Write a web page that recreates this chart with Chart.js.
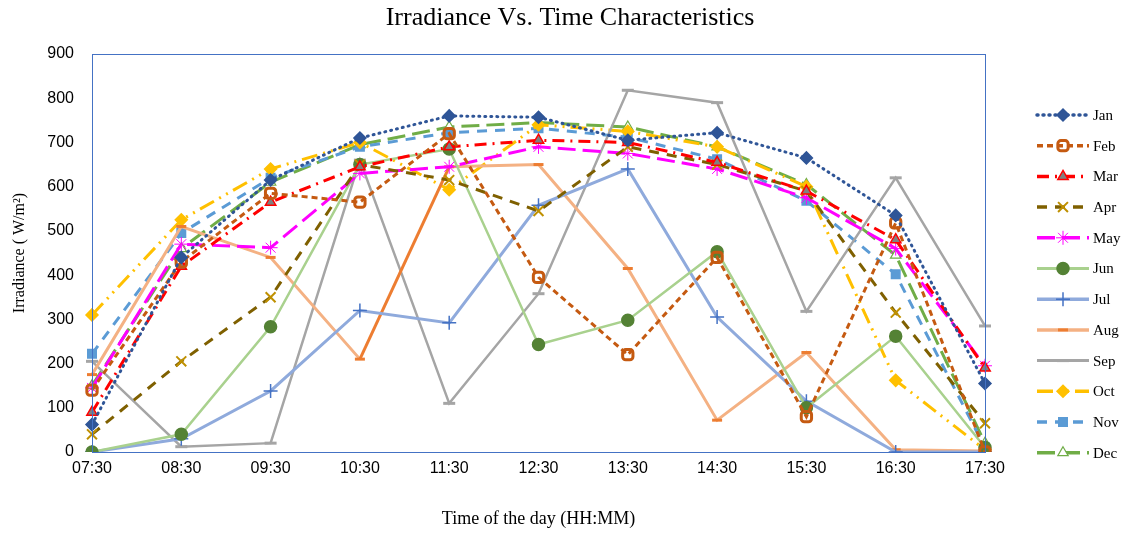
<!DOCTYPE html>
<html>
<head>
<meta charset="utf-8">
<script src="https://cdn.jsdelivr.net/npm/chart.js@4"></script>
<style>
  body { margin: 0; background: #fff; }
  #wrap { width: 1128px; height: 533px; position: relative; }
</style>
</head>
<body>
<div id="wrap"><canvas id="grafica"></canvas></div>
<script>
// Horas del día (eje X)
const horas = ['07:30', '08:30', '09:30', '10:30', '11:30', '12:30', '13:30', '14:30', '15:30', '16:30', '17:30'];
const ticksY = [0, 100, 200, 300, 400, 500, 600, 700, 800, 900];

// Irradiancia por mes (W/m2)
const jan = [62, 440, 615, 710, 760, 757, 705, 722, 665, 535, 155];
const feb = [140, 430, 585, 565, 720, 395, 220, 440, 80, 518, 0];
const mar = [90, 420, 565, 645, 690, 705, 700, 655, 590, 480, 190];
const apr = [40, 205, 350, 650, 615, 545, 690, 650, 590, 315, 65];
const may = [145, 470, 462, 630, 645, 690, 675, 640, 575, 460, 195];
const jun = [0, 40, 283, 650, 685, 243, 298, 453, 100, 262, 10];
const jul = [0, 30, 138, 320, 292, 558, 640, 305, 115, 0, 0];
const aug = [175, 510, 440, 210, 645, 650, 415, 72, 225, 5, 2];
const sep = [205, 12, 20, 660, 110, 358, 818, 790, 318, 620, 285];
const oct = [310, 525, 640, 700, 593, 740, 725, 690, 600, 162, 5];
const nov = [222, 495, 620, 690, 722, 732, 712, 662, 568, 402, 10];
const dec = [150, 460, 610, 695, 735, 745, 735, 690, 605, 445, 20];

function serie(label, data, color, dash, estilo, ptColor, ptFill, extra) {
    return Object.assign({
        label: label,
        data: data,
        borderColor: color,
        borderWidth: 3,
        borderDash: dash,
        borderCapStyle: dash.length && dash[0] <= 1 ? 'round' : 'butt',
        tension: 0,
        fill: false,
        pointStyle: estilo,
        pointRadius: 5,
        pointBorderColor: ptColor,
        pointBackgroundColor: ptFill,
        pointBorderWidth: 1.5
    }, extra || {});
}

const datasets = [
    serie('Jan', jan, '#2F5597', [1, 5], 'rectRot', '#2F5597', '#2F5597', { pointRadius: 6 }),
    serie('Feb', feb, '#C55A11', [6, 4], 'rectRounded', '#C55A11', 'rgba(255,255,255,0)', { pointBorderWidth: 3, pointRadius: 6 }),
    serie('Mar', mar, '#FF0000', [12, 6, 2, 6], 'triangle', '#FF0000', '#808080', { pointRadius: 6 }),
    serie('Apr', apr, '#7F6000', [10, 8], 'crossRot', '#BF9000', '#BF9000', { pointRadius: 7, pointBorderWidth: 2 }),
    serie('May', may, '#FF00FF', [18, 7], 'star', '#FF00FF', '#FF00FF', { pointRadius: 7, pointBorderWidth: 1 }),
    serie('Jun', jun, '#A9D18E', [], 'circle', '#548235', '#548235', { borderWidth: 2.5, pointRadius: 6 }),
    serie('Jul', jul, '#8FAADC', [], 'cross', '#4472C4', '#4472C4', { pointRadius: 7, pointBorderWidth: 1.5 }),
    serie('Aug', aug, '#F4B183', [], 'line', '#ED7D31', '#ED7D31', {
        pointRadius: 5, pointBorderWidth: 3,
        segment: { borderColor: c => c.p0DataIndex === 3 ? '#ED7D31' : undefined }
    }),
    serie('Sep', sep, '#A5A5A5', [], 'line', '#A5A5A5', '#A5A5A5', { pointRadius: 6, pointBorderWidth: 3, borderWidth: 2.5 }),
    serie('Oct', oct, '#FFC000', [16, 6, 2, 6, 2, 6], 'rectRot', '#FFC000', '#FFC000', { pointRadius: 6 }),
    serie('Nov', nov, '#5B9BD5', [10, 8], 'rect', '#5B9BD5', '#5B9BD5', { pointRadius: 6 }),
    serie('Dec', dec, '#70AD47', [18, 7], 'triangle', '#70AD47', '#FFFFFF', { pointRadius: 6, pointBorderWidth: 1.2 })
];

// Marco, título y leyenda al estilo Excel
const decorado = {
    id: 'decorado',
    afterDraw(chart) {
        const ctx = chart.ctx;
        const a = chart.chartArea;
        ctx.save();
        ctx.strokeStyle = '#4472C4';
        ctx.lineWidth = 1;
        ctx.setLineDash([]);
        ctx.strokeRect(a.left + 0.5, a.top + 0.5, a.right - a.left, a.bottom - a.top);

        ctx.fillStyle = '#000';
        ctx.font = '26px "Liberation Serif"';
        ctx.textAlign = 'center';
        ctx.textBaseline = 'middle';
        ctx.fillText('Irradiance Vs. Time Characteristics', 570, 18);

        ctx.font = '15px "Liberation Serif"';
        ctx.textAlign = 'left';
        chart.data.datasets.forEach((ds, i) => {
            const y = 115 + i * 30.7;
            ctx.strokeStyle = ds.borderColor;
            ctx.lineWidth = ds.borderWidth + 0.5;
            ctx.lineCap = ds.borderCapStyle;
            ctx.setLineDash(ds.borderDash);
            ctx.beginPath();
            ctx.moveTo(1037, y);
            ctx.lineTo(1089, y);
            ctx.stroke();
            // el marcador usa los colores del contexto
            ctx.setLineDash([]);
            ctx.lineCap = 'butt';
            ctx.strokeStyle = ds.pointBorderColor;
            ctx.fillStyle = ds.pointBackgroundColor;
            ctx.lineWidth = ds.pointBorderWidth;
            Chart.helpers.drawPoint(ctx, {
                pointStyle: ds.pointStyle,
                radius: ds.pointRadius,
                rotation: 0,
                borderWidth: ds.pointBorderWidth
            }, 1063, y);
            ctx.fillStyle = '#000';
            ctx.fillText(ds.label, 1093, y + 1);
        });
        ctx.restore();
    }
};

new Chart(document.getElementById('grafica').getContext('2d'), {
    type: 'line',
    data: { labels: horas, datasets: datasets },
    options: {
        responsive: true,
        maintainAspectRatio: false,
        animation: false,
        layout: { padding: { top: 54, right: 143, left: 10, bottom: 0 } },
        plugins: {
            legend: { display: false },
            title: { display: false },
            tooltip: { enabled: false }
        },
        scales: {
            x: {
                offset: false,
                grid: { display: false, drawTicks: false },
                border: { display: false },
                ticks: { color: '#000', font: { family: 'Liberation Sans', size: 16 }, padding: 7, maxRotation: 0, autoSkip: false },
                title: { display: true, text: 'Time of the day (HH:MM)', color: '#000', font: { family: 'Liberation Serif', size: 18 }, padding: { top: 20, bottom: 3 } },
                afterFit: s => { s.height = 81; }
            },
            y: {
                min: 0,
                max: 900,
                afterBuildTicks: s => { s.ticks = ticksY.map(v => ({ value: v })); },
                grid: { display: false, drawTicks: false },
                border: { display: false },
                ticks: { color: '#000', font: { family: 'Liberation Sans', size: 16 }, padding: 18 },
                title: { display: true, text: 'Irradiance ( W/m²)', color: '#000', font: { family: 'Liberation Serif', size: 16 }, padding: { top: 0, bottom: 4 } },
                afterFit: s => { s.width = 82; }
            }
        }
    },
    plugins: [decorado]
});
</script>
</body>
</html>
